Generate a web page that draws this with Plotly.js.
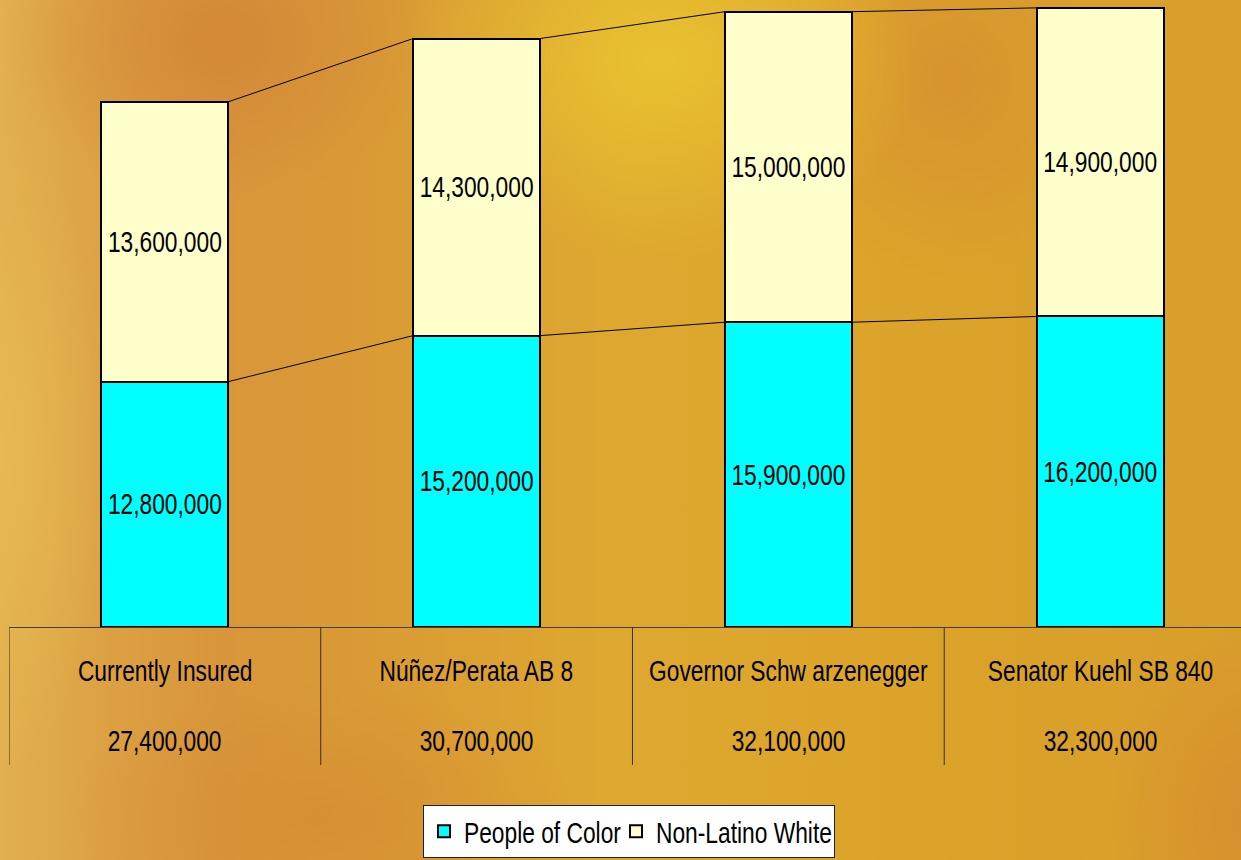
<!DOCTYPE html>
<html>
<head>
<meta charset="utf-8">
<script src="https://cdn.plot.ly/plotly-3.0.1.min.js"></script>
<style>
  html, body { margin: 0; padding: 0; }
  #chart {
    width: 1241px; height: 860px; overflow: hidden;
    background:
      radial-gradient(ellipse 260px 200px at 660px 60px, rgba(234,196,48,0.9), rgba(234,196,48,0) 100%),
      radial-gradient(ellipse 220px 160px at 220px 40px, rgba(210,134,56,0.85), rgba(210,134,56,0) 100%),
      radial-gradient(ellipse 180px 200px at 950px 80px, rgba(212,138,52,0.6), rgba(212,138,52,0) 100%),
      radial-gradient(ellipse 260px 140px at 320px 820px, rgba(213,140,50,0.7), rgba(213,140,50,0) 100%),
      radial-gradient(ellipse 140px 200px at 1250px 820px, rgba(214,136,48,0.7), rgba(214,136,48,0) 100%),
      radial-gradient(ellipse 110px 320px at 0px 450px, rgba(230,186,84,0.9), rgba(230,186,84,0) 100%),
      linear-gradient(to right, #E2B04E 0%, #DCA042 9%, #D8963A 18%, #DA9C34 32%, #DEA830 50%, #DCA42A 68%, #DAA12A 85%, #D99E2C 100%);
  }
</style>
</head>
<body>
<div id="chart"></div>
<script>
// ---- data ----
const categories = ["Currently Insured", "Núñez/Perata AB 8", "Governor Schw arzenegger", "Senator Kuehl SB 840"];
const peopleOfColor = [12800000, 15200000, 15900000, 16200000];
const nonLatinoWhite = [13600000, 14300000, 15000000, 14900000];
const totals = [27400000, 30700000, 32100000, 32300000];
const seriesNames = ["People of Color", "Non-Latino White"];

// ---- derived ----
const idx = categories.map((c, i) => i);
const upper = totals.map((t, i) => t - peopleOfColor[i]);
const fmt = v => v.toLocaleString('en-US');
const FONT = '"Liberation Sans", Arial, sans-serif';
const FS = 29;
const SQUEEZE = 0.785;   // horizontally condensed lettering as in the original
const BW = 0.407;
const LEG_LEFT = 423, LEG_W = 411;

function connectors(vals) {
  const xs = [], ys = [];
  for (let i = 0; i < vals.length - 1; i++) {
    xs.push(i + BW / 2, i + 1 - BW / 2, null);
    ys.push(vals[i], vals[i + 1], null);
  }
  return { x: xs, y: ys };
}
const pocLine = connectors(peopleOfColor);
const totLine = connectors(totals);

const traces = [
  {
    type: 'bar', name: seriesNames[0], x: idx, y: peopleOfColor, width: BW,
    marker: { color: '#00FFFF', line: { color: '#000', width: 2 } },
    text: peopleOfColor.map(fmt), texttemplate: '%{text}', textposition: 'inside',
    insidetextanchor: 'middle', textangle: 0, constraintext: 'none',
    textfont: { family: FONT, size: FS, color: '#000' }, hoverinfo: 'skip'
  },
  {
    type: 'bar', name: seriesNames[1], x: idx, y: upper, width: BW,
    marker: { color: '#FFFFCC', line: { color: '#000', width: 2 } },
    text: nonLatinoWhite.map(fmt), texttemplate: '%{text}', textposition: 'inside',
    insidetextanchor: 'middle', textangle: 0, constraintext: 'none',
    textfont: { family: FONT, size: FS, color: '#000' }, hoverinfo: 'skip'
  },
  { type: 'scatter', mode: 'lines', x: pocLine.x, y: pocLine.y, line: { color: '#000', width: 1 }, showlegend: false, hoverinfo: 'skip', connectgaps: false },
  { type: 'scatter', mode: 'lines', x: totLine.x, y: totLine.y, line: { color: '#000', width: 1 }, showlegend: false, hoverinfo: 'skip', connectgaps: false }
];

const H = 627; // plot height in px (t=0)
const py = px => (H - px) / H;

const annotations = [];
categories.forEach((c, i) => {
  annotations.push({ x: i, y: py(671), xref: 'x', yref: 'paper', text: c, showarrow: false,
    xanchor: 'center', yanchor: 'middle', font: { family: FONT, size: FS, color: '#000' } });
  annotations.push({ x: i, y: py(741), xref: 'x', yref: 'paper', text: fmt(totals[i]), showarrow: false,
    xanchor: 'center', yanchor: 'middle', font: { family: FONT, size: FS, color: '#000' } });
});

const shapes = [];
for (let i = 0; i < categories.length; i++) {
  shapes.push({ type: 'line', xref: 'x', yref: 'paper', x0: i - 0.5, x1: i - 0.5, y0: 0, y1: py(765),
    line: { color: '#303030', width: 1 } });
}

const layout = {
  width: 1241, height: 860,
  margin: { l: 9, r: 0, t: 0, b: 860 - H, pad: 0 },
  paper_bgcolor: 'rgba(0,0,0,0)', plot_bgcolor: 'rgba(0,0,0,0)',
  barmode: 'stack', bargap: 0,
  showlegend: true,
  legend: {
    orientation: 'h', x: (LEG_LEFT - 9) / 1232, xanchor: 'left', y: py(805), yanchor: 'top',
    bgcolor: '#FFFFFF', bordercolor: '#202020', borderwidth: 1,
    entrywidth: 147, entrywidthmode: 'pixels',
    font: { family: FONT, size: FS, color: '#000' }, traceorder: 'normal'
  },
  xaxis: {
    range: [-0.5, 3.452], showgrid: false, zeroline: false, showticklabels: false, ticks: '',
    showline: true, linecolor: '#404040', linewidth: 1, fixedrange: true
  },
  yaxis: {
    range: [0, 32710000], showgrid: false, zeroline: false, showticklabels: false, ticks: '',
    showline: false, fixedrange: true
  },
  annotations: annotations,
  shapes: shapes,
  hovermode: false
};

Plotly.newPlot('chart', traces, layout, { displayModeBar: false, staticPlot: true }).then(gd => {
  gd.querySelectorAll('text.bartext, g.annotation text, text.legendtext').forEach(t => {
    const w = t.getComputedTextLength();
    t.setAttribute('textLength', (w * SQUEEZE).toFixed(1));
    t.setAttribute('lengthAdjust', 'spacingAndGlyphs');
  });
  const bg = gd.querySelector('g.legend rect.bg');
  if (bg) bg.setAttribute('width', LEG_W);
  const sb = gd.querySelector('g.legend .scrollbox');
  if (sb) sb.removeAttribute('clip-path');
});
</script>
</body>
</html>
